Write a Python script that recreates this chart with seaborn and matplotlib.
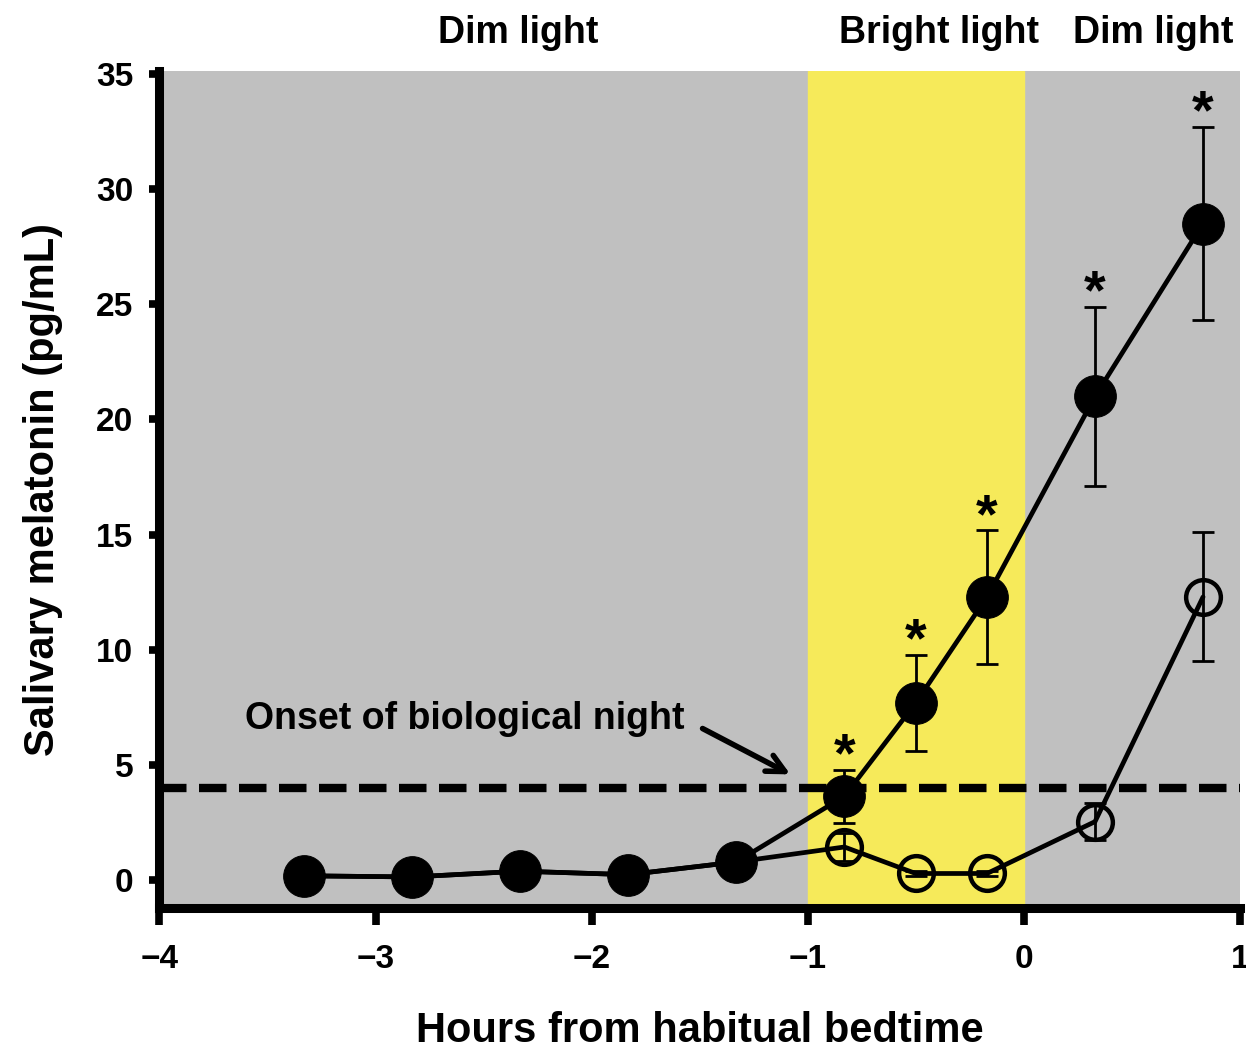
import numpy as np
import pandas as pd
import matplotlib
matplotlib.use('Agg')
import matplotlib.pyplot as plt
import seaborn as sns

# Saatler (alışılmış yatma saatine göre)
saat = [-3.33, -2.83, -2.33, -1.83, -1.33, -0.83, -0.5, -0.17, 0.33, 0.83]

# Dolu daireler
dolu = [0.2, 0.15, 0.4, 0.25, 0.8, 3.65, 7.7, 12.3, 21.0, 28.5]
dolu_hata = [0.0, 0.0, 0.0, 0.0, 0.0, 1.15, 2.1, 2.9, 3.9, 4.2]

# Boş daireler
bos = [0.2, 0.15, 0.4, 0.25, 0.8, 1.45, 0.3, 0.3, 2.55, 12.3]
bos_hata = [0.0, 0.0, 0.0, 0.0, 0.0, 0.6, 0.1, 0.1, 0.8, 2.8]

yildiz = [False, False, False, False, False, True, True, True, True, True]

esik = 4.0
bolgeler = ['Dim light', 'Bright light', 'Dim light']
bolge_x = [-2.34, -0.39, 0.6]

df = pd.DataFrame({'saat': saat, 'dolu': dolu, 'bos': bos})

sns.set_style('ticks')
plt.rcParams['font.family'] = ['Liberation Sans', 'DejaVu Sans']
plt.rcParams['font.weight'] = 'bold'
plt.rcParams['text.color'] = 'black'
plt.rcParams['axes.labelcolor'] = 'black'
plt.rcParams['xtick.color'] = 'black'
plt.rcParams['ytick.color'] = 'black'
plt.rcParams['axes.edgecolor'] = 'black'

fig = plt.figure(figsize=(12.46, 10.51), dpi=100)
ax = fig.add_axes([0.128, 0.136, 0.867, 0.796])
ax.set_facecolor('#c0c0c0')
ax.axvspan(-1, 0, color='#f6ea5a', zorder=0)

# eşik çizgisi
ax.axhline(esik, color='black', lw=6, ls=(0, (3.3, 1.5)), zorder=2)

# boş seri
ax.errorbar(df['saat'], df['bos'], yerr=bos_hata, fmt='none', ecolor='black',
            elinewidth=2, capsize=8, capthick=2, zorder=3)
sns.lineplot(data=df, x='saat', y='bos', ax=ax, color='black', lw=3.4,
             marker='o', markersize=25, markerfacecolor='none',
             markeredgecolor='black', markeredgewidth=3.2, zorder=4)

# dolu seri
ax.errorbar(df['saat'], df['dolu'], yerr=dolu_hata, fmt='none', ecolor='black',
            elinewidth=2, capsize=8, capthick=2, zorder=5)
sns.lineplot(data=df, x='saat', y='dolu', ax=ax, color='black', lw=3.4,
             marker='o', markersize=30, markerfacecolor='black',
             markeredgecolor='black', zorder=6)

for x, y, e, s in zip(saat, dolu, dolu_hata, yildiz):
    if s:
        ax.text(x, y + e - 0.6, '*', ha='center', va='bottom',
                fontsize=40, fontweight='bold')

ax.annotate('Onset of biological night', xy=(-1.08, 4.6), xytext=(-1.57, 7.0),
            ha='right', va='center', fontsize=27, fontweight='bold',
            arrowprops=dict(arrowstyle='->', lw=4, color='black',
                            mutation_scale=32, relpos=(1, 0.5), shrinkA=12,
                            shrinkB=0))

for t, x in zip(bolgeler, bolge_x):
    ax.text(x, 1.034, t, transform=ax.get_xaxis_transform(), ha='center',
            va='baseline', fontsize=27, fontweight='bold')

ax.set_xlim(-4, 1)
ax.set_ylim(-1.2, 35.1)
ax.set_xticks([-4, -3, -2, -1, 0, 1])
ax.set_xticklabels(['\u22124', '\u22123', '\u22122', '\u22121', '0', '1'])
ax.set_yticks([0, 5, 10, 15, 20, 25, 30, 35])

for sp in ['top', 'right']:
    ax.spines[sp].set_visible(False)
for sp in ['left', 'bottom']:
    ax.spines[sp].set_linewidth(6.5)
ax.tick_params(axis='both', width=5.5, labelsize=24, direction='out',
               colors='black')
ax.tick_params(axis='x', length=12, pad=14)
ax.tick_params(axis='y', length=7, pad=12)
for lab in ax.get_xticklabels() + ax.get_yticklabels():
    lab.set_fontweight('bold')

ax.set_xlabel('Hours from habitual bedtime', fontsize=30, fontweight='bold',
              labelpad=26)
ax.set_ylabel('Salivary melatonin (pg/mL)', fontsize=30, fontweight='bold',
              labelpad=24)

fig.savefig('out.png', dpi=100)
